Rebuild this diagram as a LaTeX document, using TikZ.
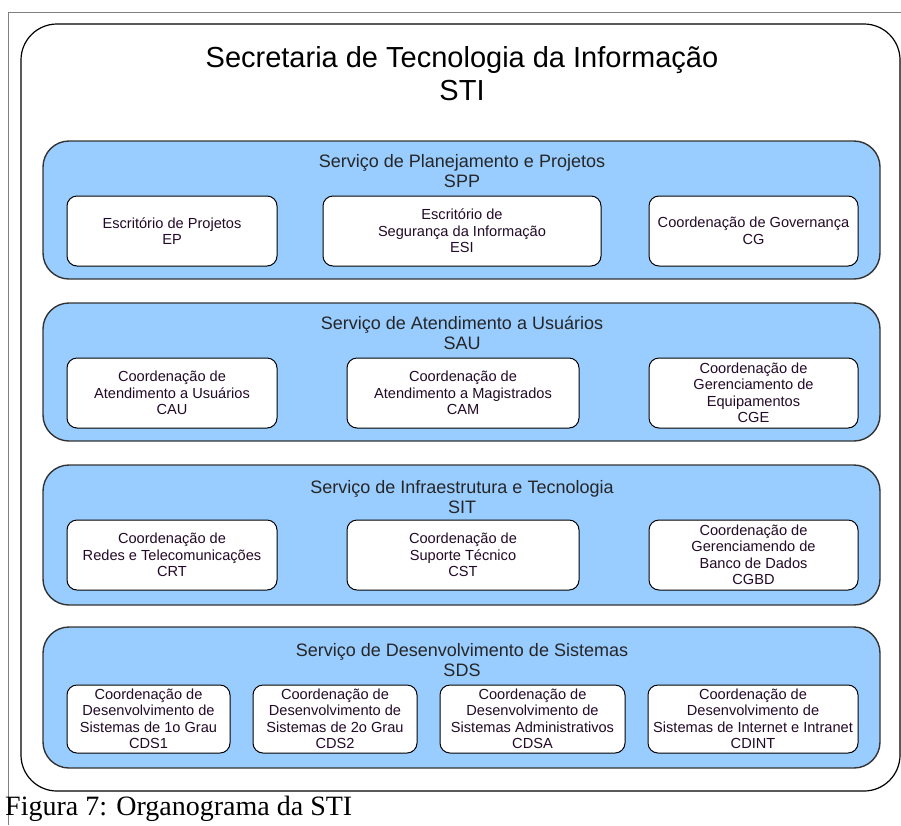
\documentclass[tikz,border=0pt]{standalone}
\usepackage{fontspec}
\setmainfont{Liberation Sans}
\newfontfamily\legendafont{Liberation Serif}
\usepackage{tikz}
\usetikzlibrary{positioning}
\definecolor{azulservico}{RGB}{153,204,255}
\definecolor{textocaixa}{RGB}{35,10,40}
\definecolor{moldura}{RGB}{128,128,128}
\tikzset{
  servico/.style={draw=black!80, line width=1.4pt, fill=azulservico, rounded corners=26pt, minimum width=837pt, minimum height=138pt},
  coord/.style={draw=black, line width=1pt, fill=white, rounded corners=10pt, align=center, inner sep=1pt,
    minimum height=70pt, font=\fontsize{14.6}{16.5}\selectfont, text=textocaixa},
  titserv/.style={align=center, font=\fontsize{18}{20}\selectfont, text=black!85},
}

\begin{document}
\begin{tikzpicture}[x=1pt,y=-1pt]
\useasboundingbox (0,0) rectangle (901,825);
\draw[moldura, line width=1pt] (8,825) -- (8,12) -- (901,12);
\draw[line width=1.2pt, rounded corners=36pt] (21,24) rectangle (900,791);
\node[align=center, font=\fontsize{29}{33}\selectfont] (sti) at (462,73.5) {Secretaria de Tecnologia da Informação\\STI};

\node[servico] (spp) at (461.5,210) {};
\node[titserv] (spptit) at (462,171) {Serviço de Planejamento e Projetos\\SPP};
\node[coord, minimum width=210pt] (ep) at (172,231) {Escritório de Projetos\\EP};
\node[coord, minimum width=278pt] (esi) at (462,231) {Escritório de\\Segurança da Informação\\ESI};
\node[coord, minimum width=209pt] (cg) at (753.5,231) {Coordenação de Governança\\CG};

\node[servico] (sau) at (461.5,372) {};
\node[titserv] (sautit) at (462,333) {Serviço de Atendimento a Usuários\\SAU};
\node[coord, minimum width=210pt] (cau) at (172,393) {Coordenação de\\Atendimento a Usuários\\CAU};
\node[coord, minimum width=232pt] (cam) at (463,393) {Coordenação de\\Atendimento a Magistrados\\CAM};
\node[coord, minimum width=209pt] (cge) at (753.5,393) {Coordenação de\\Gerenciamento de\\Equipamentos\\CGE};

\node[servico, minimum height=140pt] (sit) at (461.5,535) {};
\node[titserv] (sittit) at (462,497) {Serviço de Infraestrutura e Tecnologia\\SIT};
\node[coord, minimum width=210pt] (crt) at (172,555) {Coordenação de\\Redes e Telecomunicações\\CRT};
\node[coord, minimum width=232pt] (cst) at (463,555) {Coordenação de\\Suporte Técnico\\CST};
\node[coord, minimum width=209pt] (cgbd) at (753.5,555) {Coordenação de\\Gerenciamendo de\\Banco de Dados\\CGBD};

\node[servico, minimum height=141pt] (sds) at (461.5,697.5) {};
\node[titserv] (sdstit) at (462,660) {Serviço de Desenvolvimento de Sistemas\\SDS};
\node[coord, minimum width=163pt, minimum height=68pt] (cds1) at (148.5,719) {Coordenação de\\Desenvolvimento de\\Sistemas de 1o Grau\\CDS1};
\node[coord, minimum width=164pt, minimum height=68pt] (cds2) at (335,719) {Coordenação de\\Desenvolvimento de\\Sistemas de 2o Grau\\CDS2};
\node[coord, minimum width=185pt, minimum height=68pt] (cdsa) at (532.5,719) {Coordenação de\\Desenvolvimento de\\Sistemas Administrativos\\CDSA};
\node[coord, minimum width=210pt, minimum height=68pt] (cdint) at (753,719) {Coordenação de\\Desenvolvimento de\\Sistemas de Internet e Intranet\\CDINT};

\node[anchor=base west, inner sep=0pt, font=\legendafont\fontsize{28}{30}\selectfont] (legenda) at (5,815) {Figura 7: Organograma da STI};
\end{tikzpicture}
\end{document}
